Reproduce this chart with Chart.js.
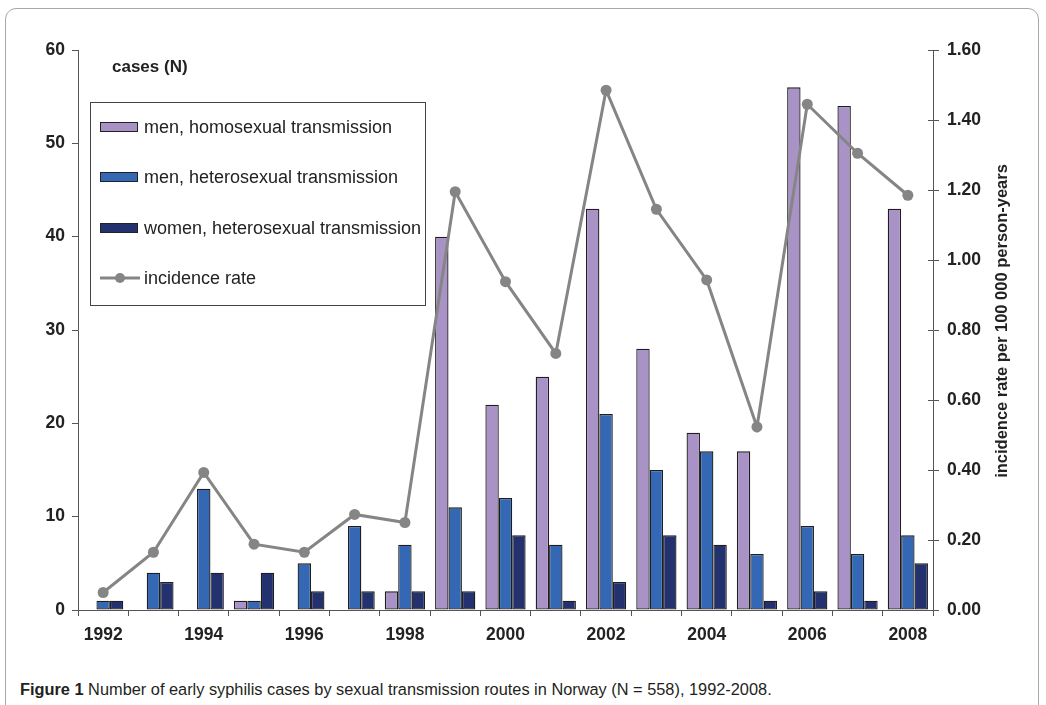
<!DOCTYPE html>
<html>
<head>
<meta charset="utf-8">
<script src="https://cdn.jsdelivr.net/npm/chart.js@4.4.1/dist/chart.umd.min.js"></script>
<style>
  html, body { margin: 0; padding: 0; background: #fff; width: 1046px; height: 705px; overflow: hidden; }
  #frame { position: absolute; left: 5px; top: 8px; width: 1034px; height: 740px; border: 1px solid #a8a8a8; border-radius: 11px; box-sizing: border-box; }
  #wrap { position: absolute; left: 0; top: 0; width: 1046px; height: 650px; }
  #caption { position: absolute; left: 20px; top: 680px; font-family: "Liberation Sans Narrow", "Liberation Sans", Arial, sans-serif; font-size: 16.35px; color: #231f20; white-space: nowrap; }
  #caption b { font-weight: bold; }
</style>
</head>
<body>
<div id="frame"></div>
<div id="wrap"><canvas id="c" width="1046" height="650"></canvas></div>
<div id="caption"><b>Figure 1</b> Number of early syphilis cases by sexual transmission routes in Norway (N = 558), 1992-2008.</div>
<script>
const years = ["1992","1993","1994","1995","1996","1997","1998","1999","2000","2001","2002","2003","2004","2005","2006","2007","2008"];
const menHomo = [0,0,0,1,0,0,2,40,22,25,43,28,19,17,56,54,43];
const menHetero = [1,4,13,1,5,9,7,11,12,7,21,15,17,6,9,6,8];
const womenHetero = [1,3,4,4,2,2,2,2,8,1,3,8,7,1,2,1,5];
const incidenceRate = [0.05,0.165,0.393,0.188,0.165,0.273,0.250,1.195,0.938,0.733,1.485,1.145,0.943,0.523,1.445,1.305,1.185];
const leftTicks = [0,10,20,30,40,50,60];
const rightTicks = [0,0.2,0.4,0.6,0.8,1.0,1.2,1.4,1.6];

const FONT = '"Liberation Sans", Arial, sans-serif';
const TXT = '#222';
const AXIS = '#555';

const legendPlugin = {
  id: 'boxLegend',
  afterDraw(chart) {
    const ctx = chart.ctx;
    ctx.save();
    ctx.fillStyle = TXT;
    ctx.font = 'bold 17px ' + FONT;
    ctx.textBaseline = 'middle';
    ctx.textAlign = 'left';
    ctx.fillText('cases (N)', 112, 67);
    const bx = 90.5, by = 102.5, bw = 335, bh = 203;
    ctx.fillStyle = '#fff';
    ctx.fillRect(bx, by, bw, bh);
    ctx.strokeStyle = '#444';
    ctx.lineWidth = 1;
    ctx.strokeRect(bx, by, bw, bh);
    const ds = chart.data.datasets;
    const orderIdx = [1, 2, 3, 0];
    const rows = [127, 177, 228, 278];
    ctx.font = '18px ' + FONT;
    orderIdx.forEach((di, i) => {
      const d = ds[di];
      const y = rows[i];
      if (d.type === 'line') {
        ctx.strokeStyle = d.borderColor;
        ctx.lineWidth = 3;
        ctx.beginPath();
        ctx.moveTo(100, y);
        ctx.lineTo(140, y);
        ctx.stroke();
        ctx.fillStyle = d.pointBackgroundColor;
        ctx.beginPath();
        ctx.arc(120, y, 5, 0, Math.PI * 2);
        ctx.fill();
      } else {
        ctx.fillStyle = d.backgroundColor;
        ctx.fillRect(100.5, y - 4.5, 37, 9);
        ctx.strokeStyle = '#222';
        ctx.lineWidth = 1;
        ctx.strokeRect(100.5, y - 4.5, 37, 9);
      }
      ctx.fillStyle = TXT;
      ctx.fillText(d.label, 144, y + 1);
    });
    ctx.save();
    ctx.translate(1002, 321);
    ctx.rotate(-Math.PI / 2);
    ctx.textAlign = 'center';
    ctx.font = 'bold 16.5px ' + FONT;
    ctx.fillStyle = TXT;
    ctx.fillText('incidence rate per 100 000 person-years', 0, 0);
    ctx.restore();
    const y1 = chart.scales.y1;
    ctx.strokeStyle = AXIS;
    ctx.lineWidth = 1;
    y1.ticks.forEach(t => {
      const yy = Math.round(y1.getPixelForValue(t.value)) + 0.5;
      ctx.beginPath();
      ctx.moveTo(y1.left - 5, yy);
      ctx.lineTo(y1.left, yy);
      ctx.stroke();
    });
    ctx.restore();
  }
};

new Chart(document.getElementById('c'), {
  data: {
    labels: years,
    datasets: [
      {
        type: 'line', label: 'incidence rate', data: incidenceRate, yAxisID: 'y1', order: 0,
        borderColor: '#858585', borderWidth: 3, pointRadius: 5.5, pointBackgroundColor: '#858585',
        pointBorderWidth: 0, tension: 0
      },
      { type: 'bar', label: 'men, homosexual transmission', data: menHomo, yAxisID: 'y', order: 1,
        backgroundColor: '#a993c6', borderColor: '#1e1e1e', borderWidth: 1.3, borderSkipped: false },
      { type: 'bar', label: 'men, heterosexual transmission', data: menHetero, yAxisID: 'y', order: 1,
        backgroundColor: '#3568b4', borderColor: '#1e1e1e', borderWidth: 1.3, borderSkipped: false },
      { type: 'bar', label: 'women, heterosexual transmission', data: womenHetero, yAxisID: 'y', order: 1,
        backgroundColor: '#23316f', borderColor: '#1e1e1e', borderWidth: 1.3, borderSkipped: false }
    ]
  },
  options: {
    responsive: false,
    animation: false,
    devicePixelRatio: 1,
    datasets: { bar: { categoryPercentage: 0.8, barPercentage: 1.0 } },
    layout: { padding: { top: 50, left: 0, right: 0, bottom: 0 } },
    plugins: { legend: { display: false }, tooltip: { enabled: false }, title: { display: false } },
    scales: {
      x: {
        type: 'category', offset: true,
        grid: { display: true, drawOnChartArea: false, drawTicks: true, tickLength: 6, offset: true, color: AXIS },
        border: { display: true, color: AXIS, width: 1 },
        ticks: {
          autoSkip: false, maxRotation: 0, padding: 9, color: TXT,
          font: { family: FONT, size: 17.5, weight: 'bold' },
          callback: function(v, i) { const l = this.getLabelForValue(v); return (i % 2 === 0) ? l : ''; }
        },
        afterFit(s) { s.height = 40; }
      },
      y: {
        position: 'left', min: 0, max: 60,
        afterBuildTicks(s) { s.ticks = leftTicks.map(v => ({ value: v })); },
        grid: { display: true, drawOnChartArea: false, drawTicks: true, tickLength: 6, color: AXIS },
        border: { display: true, color: AXIS, width: 1 },
        ticks: { padding: 7, color: TXT, font: { family: FONT, size: 17.5, weight: 'bold' } },
        afterFit(s) { s.width = 78; }
      },
      y1: {
        position: 'right', min: 0, max: 1.6,
        afterBuildTicks(s) { s.ticks = rightTicks.map(v => ({ value: v })); },
        grid: { display: true, drawOnChartArea: false, drawTicks: true, tickLength: 6, color: AXIS },
        border: { display: true, color: AXIS, width: 1 },
        ticks: { padding: 8, color: TXT, font: { family: FONT, size: 17.5, weight: 'bold' },
          callback: v => Number(v).toFixed(2) },
        afterFit(s) { s.width = 113; }
      }
    }
  },
  plugins: [legendPlugin]
});
</script>
</body>
</html>
